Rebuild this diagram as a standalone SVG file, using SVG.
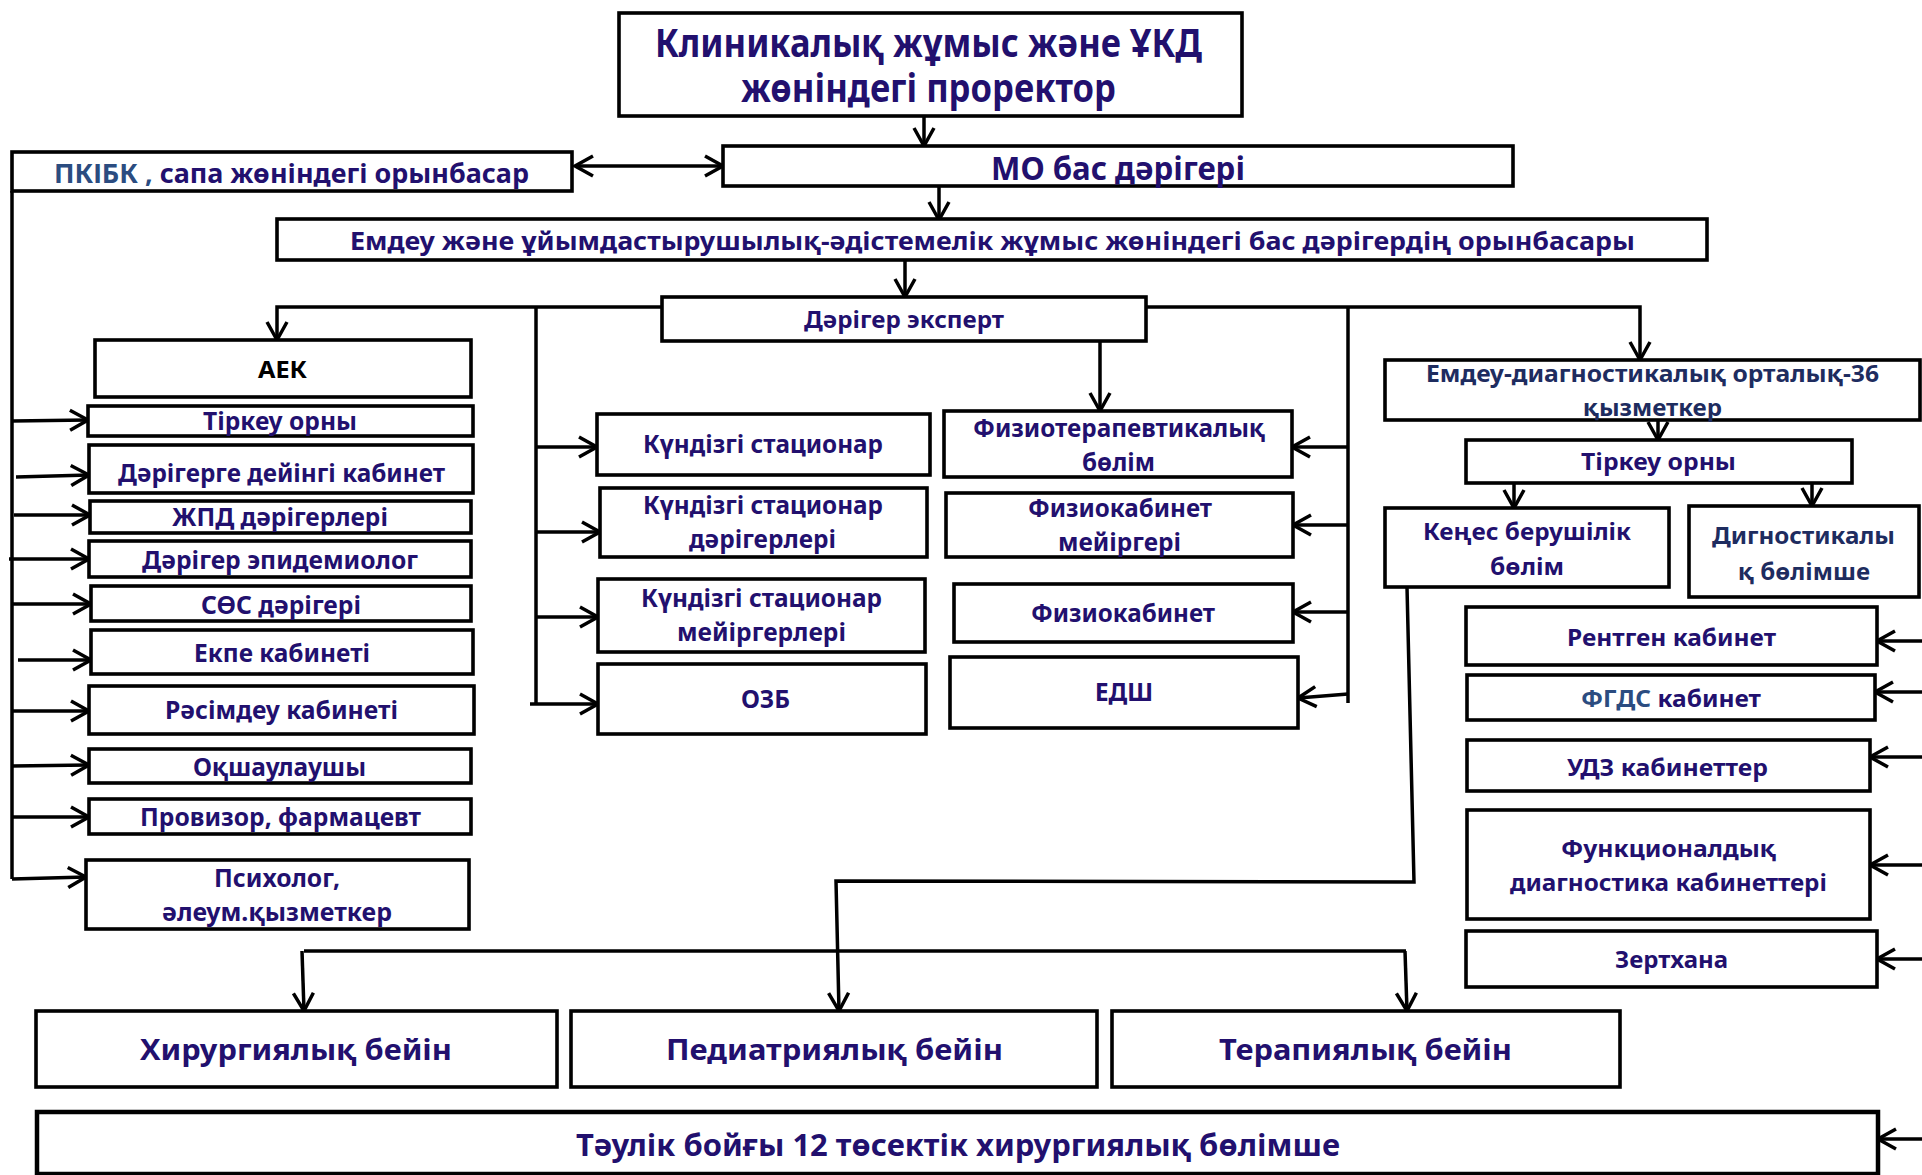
<svg xmlns="http://www.w3.org/2000/svg" width="1922" height="1175" viewBox="0 0 1922 1175">
<defs>
<marker id="ah" markerUnits="userSpaceOnUse" markerWidth="26" markerHeight="28" viewBox="-22 -14 26 28" refX="0" refY="0" orient="auto-start-reverse" overflow="visible">
<path d="M-18,-10 L0,0 L-18,10" fill="none" stroke="#000" stroke-width="3.5" stroke-linejoin="miter"/>
</marker>
</defs>
<style>
.box{fill:#fff;stroke:#000;stroke-width:3.6}
.t{font-family:"Noto Sans","Liberation Sans",sans-serif;font-weight:700;fill:#22106e}
.b{fill:#2b4c80}
.n{fill:#1e2c5f}
.c{fill:none;stroke:#000;stroke-width:3.5}
.a{fill:none;stroke:#000;stroke-width:3.5;marker-end:url(#ah)}
.s25{font-size:25px}
.s24{font-size:24px}
.s23{font-size:23px}
.s29{font-size:29px}
</style>
<rect width="1922" height="1175" fill="#fff"/>

<g id="connectors">
<path class="a" d="M924,95 V146"/>
<path class="a" d="M575,166 H723" style="marker-start:url(#ah)"/>
<path class="a" d="M939,186 V220"/>
<path class="a" d="M905,260 V297"/>
<path class="a" d="M662,307 H277 V340"/>
<path class="c" d="M536,307 V704"/>
<path class="a" d="M536,447 H597"/>
<path class="a" d="M536,532 H600"/>
<path class="a" d="M536,617 H598"/>
<path class="a" d="M530,704 H598"/>
<path class="c" d="M12,191 V879"/>
<path class="a" d="M12,421 L88,420"/>
<path class="a" d="M16,477 L89,475"/>
<path class="a" d="M14,515 H90"/>
<path class="a" d="M9,559 H89"/>
<path class="a" d="M12,604 H91"/>
<path class="a" d="M18,660 H91"/>
<path class="a" d="M12,711 H89"/>
<path class="a" d="M12,766 L89,765"/>
<path class="a" d="M12,817 H89"/>
<path class="a" d="M12,879 L86,877"/>
<path class="a" d="M1146,307 H1640 V360"/>
<path class="a" d="M1100,341 V411"/>
<path class="c" d="M1348,307 V703"/>
<path class="a" d="M1348,447 H1292"/>
<path class="a" d="M1348,525 H1293"/>
<path class="a" d="M1348,612 H1293"/>
<path class="a" d="M1348,694 L1298,698"/>
<path class="a" d="M1658,420 V440"/>
<path class="a" d="M1514,483 V508"/>
<path class="a" d="M1812,483 V506"/>
<path class="a" d="M1407,587 L1414,882 L836,881 L839,1011"/>
<path class="c" d="M304,951 H1406"/>
<path class="a" d="M302,951 L304,1011"/>
<path class="a" d="M1405,951 L1407,1011"/>
<path class="a" d="M1922,641 H1877"/>
<path class="a" d="M1922,692 H1875"/>
<path class="a" d="M1922,757 H1870"/>
<path class="a" d="M1922,865 H1870"/>
<path class="a" d="M1922,959 H1877"/>
<path class="a" d="M1922,1139 H1878"/>
</g>

<g id="n-prorector"><rect class="box" x="619" y="13" width="623" height="103"/>
<text class="t" x="655" y="57" font-size="40" textLength="547" lengthAdjust="spacingAndGlyphs">Клиникалық жұмыс және ҰКД</text>
<text class="t" x="741" y="102" font-size="40" textLength="375" lengthAdjust="spacingAndGlyphs">жөніндегі проректор</text></g>

<g id="n-pkibk"><rect class="box" x="12" y="152" width="560" height="39"/>
<text class="t" x="54" y="183" font-size="27" textLength="475" lengthAdjust="spacingAndGlyphs"><tspan class="b">ПКІБК ,</tspan> сапа жөніндегі орынбасар</text></g>

<g id="n-mo"><rect class="box" x="723" y="146" width="790" height="40"/>
<text class="t" x="991" y="180" font-size="32" textLength="254" lengthAdjust="spacingAndGlyphs">МО бас дәрігері</text></g>

<g id="n-deputy"><rect class="box" x="277" y="219" width="1430" height="41"/>
<text class="t s25" x="350" y="250" textLength="1285" lengthAdjust="spacingAndGlyphs">Емдеу және ұйымдастырушылық-әдістемелік жұмыс жөніндегі бас дәрігердің орынбасары</text></g>

<g id="n-expert"><rect class="box" x="662" y="297" width="484" height="44"/>
<text class="t s24" x="804" y="328" textLength="200" lengthAdjust="spacingAndGlyphs">Дәрігер эксперт</text></g>

<g id="n-aek"><rect class="box" x="95" y="340" width="376" height="57"/>
<text class="t s23" x="258" y="378" style="fill:#000" textLength="49" lengthAdjust="spacingAndGlyphs">АЕК</text></g>

<g id="n-tirkeu-l"><rect class="box" x="88" y="406" width="385" height="30"/>
<text class="t s25" x="203" y="430" textLength="154" lengthAdjust="spacingAndGlyphs">Тіркеу орны</text></g>
<g id="n-dd"><rect class="box" x="89" y="445" width="384" height="48"/>
<text class="t s25" x="118" y="482" textLength="327" lengthAdjust="spacingAndGlyphs">Дәрігерге дейінгі кабинет</text></g>
<g id="n-zhpd"><rect class="box" x="90" y="501" width="381" height="32"/>
<text class="t s25" x="172" y="526" textLength="216" lengthAdjust="spacingAndGlyphs">ЖПД дәрігерлері</text></g>
<g id="n-epid"><rect class="box" x="89" y="541" width="382" height="36"/>
<text class="t s25" x="142" y="569" textLength="276" lengthAdjust="spacingAndGlyphs">Дәрігер эпидемиолог</text></g>
<g id="n-sos"><rect class="box" x="91" y="586" width="380" height="35"/>
<text class="t s25" x="201" y="614" textLength="160" lengthAdjust="spacingAndGlyphs">СӨС дәрігері</text></g>
<g id="n-ekpe"><rect class="box" x="91" y="630" width="382" height="44"/>
<text class="t s25" x="194" y="662" textLength="176" lengthAdjust="spacingAndGlyphs">Екпе кабинеті</text></g>
<g id="n-rasim"><rect class="box" x="89" y="686" width="385" height="48"/>
<text class="t s25" x="165" y="719" textLength="233" lengthAdjust="spacingAndGlyphs">Рәсімдеу кабинеті</text></g>
<g id="n-okshau"><rect class="box" x="89" y="749" width="382" height="34"/>
<text class="t s25" x="193" y="776" textLength="173" lengthAdjust="spacingAndGlyphs">Оқшаулаушы</text></g>
<g id="n-proviz"><rect class="box" x="89" y="799" width="382" height="35"/>
<text class="t s25" x="140" y="826" textLength="281" lengthAdjust="spacingAndGlyphs">Провизор, фармацевт</text></g>
<g id="n-psych"><rect class="box" x="86" y="860" width="383" height="69"/>
<text class="t s25" x="214" y="887" textLength="126" lengthAdjust="spacingAndGlyphs">Психолог,</text>
<text class="t s25" x="162" y="921" textLength="230" lengthAdjust="spacingAndGlyphs">әлеум.қызметкер</text></g>

<g id="n-kun1"><rect class="box" x="597" y="414" width="333" height="61"/>
<text class="t s25" x="643" y="453" textLength="240" lengthAdjust="spacingAndGlyphs">Күндізгі стационар</text></g>
<g id="n-kun2"><rect class="box" x="600" y="488" width="327" height="69"/>
<text class="t s25" x="643" y="514" textLength="240" lengthAdjust="spacingAndGlyphs">Күндізгі стационар</text>
<text class="t s25" x="689" y="548" textLength="147" lengthAdjust="spacingAndGlyphs">дәрігерлері</text></g>
<g id="n-kun3"><rect class="box" x="598" y="579" width="327" height="73"/>
<text class="t s25" x="641" y="607" textLength="241" lengthAdjust="spacingAndGlyphs">Күндізгі стационар</text>
<text class="t s25" x="677" y="641" textLength="169" lengthAdjust="spacingAndGlyphs">мейіргерлері</text></g>
<g id="n-ozb"><rect class="box" x="598" y="664" width="328" height="70"/>
<text class="t s25" x="741" y="708" textLength="49" lengthAdjust="spacingAndGlyphs">ОЗБ</text></g>

<g id="n-fizio"><rect class="box" x="944" y="411" width="348" height="66"/>
<text class="t s25" x="973" y="437" textLength="292" lengthAdjust="spacingAndGlyphs">Физиотерапевтикалық</text>
<text class="t s25" x="1082" y="471" textLength="73" lengthAdjust="spacingAndGlyphs">бөлім</text></g>
<g id="n-fiziomeir"><rect class="box" x="946" y="493" width="347" height="64"/>
<text class="t s25" x="1028" y="517" textLength="184" lengthAdjust="spacingAndGlyphs">Физиокабинет</text>
<text class="t s25" x="1058" y="551" textLength="123" lengthAdjust="spacingAndGlyphs">мейіргері</text></g>
<g id="n-fiziokab"><rect class="box" x="954" y="584" width="339" height="58"/>
<text class="t s25" x="1031" y="622" textLength="184" lengthAdjust="spacingAndGlyphs">Физиокабинет</text></g>
<g id="n-edsh"><rect class="box" x="950" y="657" width="348" height="71"/>
<text class="t s25" x="1095" y="701" textLength="58" lengthAdjust="spacingAndGlyphs">ЕДШ</text></g>

<g id="n-edo"><rect class="box" x="1385" y="360" width="535" height="60"/>
<text class="t n s23" x="1426" y="382" textLength="453" lengthAdjust="spacingAndGlyphs">Емдеу-диагностикалық орталық-36</text>
<text class="t n s23" x="1583" y="416" textLength="139" lengthAdjust="spacingAndGlyphs">қызметкер</text></g>
<g id="n-tirkeu-r"><rect class="box" x="1466" y="440" width="386" height="43"/>
<text class="t s24" x="1581" y="470" textLength="155" lengthAdjust="spacingAndGlyphs">Тіркеу орны</text></g>
<g id="n-kenes"><rect class="box" x="1385" y="508" width="284" height="79"/>
<text class="t s23" x="1423" y="540" textLength="208" lengthAdjust="spacingAndGlyphs">Кеңес берушілік</text>
<text class="t s23" x="1490" y="575" textLength="74" lengthAdjust="spacingAndGlyphs">бөлім</text></g>
<g id="n-diag"><rect class="box" x="1689" y="506" width="230" height="91"/>
<text class="t n s24" x="1712" y="544" textLength="183" lengthAdjust="spacingAndGlyphs">Дигностикалы</text>
<text class="t n s24" x="1738" y="580" textLength="132" lengthAdjust="spacingAndGlyphs">қ бөлімше</text></g>
<g id="n-rentgen"><rect class="box" x="1466" y="607" width="411" height="58"/>
<text class="t s24" x="1567" y="646" textLength="209" lengthAdjust="spacingAndGlyphs">Рентген кабинет</text></g>
<g id="n-fgds"><rect class="box" x="1467" y="675" width="408" height="45"/>
<text class="t s24" x="1581" y="707" textLength="180" lengthAdjust="spacingAndGlyphs"><tspan class="b">ФГДС</tspan> кабинет</text></g>
<g id="n-udz"><rect class="box" x="1467" y="740" width="403" height="51"/>
<text class="t s24" x="1567" y="776" textLength="201" lengthAdjust="spacingAndGlyphs">УДЗ кабинеттер</text></g>
<g id="n-func"><rect class="box" x="1467" y="810" width="403" height="109"/>
<text class="t s24" x="1561" y="857" textLength="215" lengthAdjust="spacingAndGlyphs">Функционалдық</text>
<text class="t s24" x="1510" y="891" textLength="317" lengthAdjust="spacingAndGlyphs">диагностика кабинеттері</text></g>
<g id="n-zert"><rect class="box" x="1466" y="931" width="411" height="56"/>
<text class="t s24" x="1615" y="968" textLength="113" lengthAdjust="spacingAndGlyphs">Зертхана</text></g>

<g id="n-khir"><rect class="box" x="36" y="1011" width="521" height="76"/>
<text class="t s29" x="140" y="1060" textLength="312" lengthAdjust="spacingAndGlyphs">Хирургиялық бейін</text></g>
<g id="n-ped"><rect class="box" x="571" y="1011" width="526" height="76"/>
<text class="t s29" x="666" y="1060" textLength="337" lengthAdjust="spacingAndGlyphs">Педиатриялық бейін</text></g>
<g id="n-ter"><rect class="box" x="1112" y="1011" width="508" height="76"/>
<text class="t s29" x="1219" y="1060" textLength="293" lengthAdjust="spacingAndGlyphs">Терапиялық бейін</text></g>
<g id="n-taulik"><rect class="box" x="37" y="1112" width="1841" height="62" style="stroke-width:4.5"/>
<text class="t" x="576" y="1156" font-size="30" textLength="764" lengthAdjust="spacingAndGlyphs">Тәулік бойғы 12 төсектік хирургиялық бөлімше</text></g>
</svg>
